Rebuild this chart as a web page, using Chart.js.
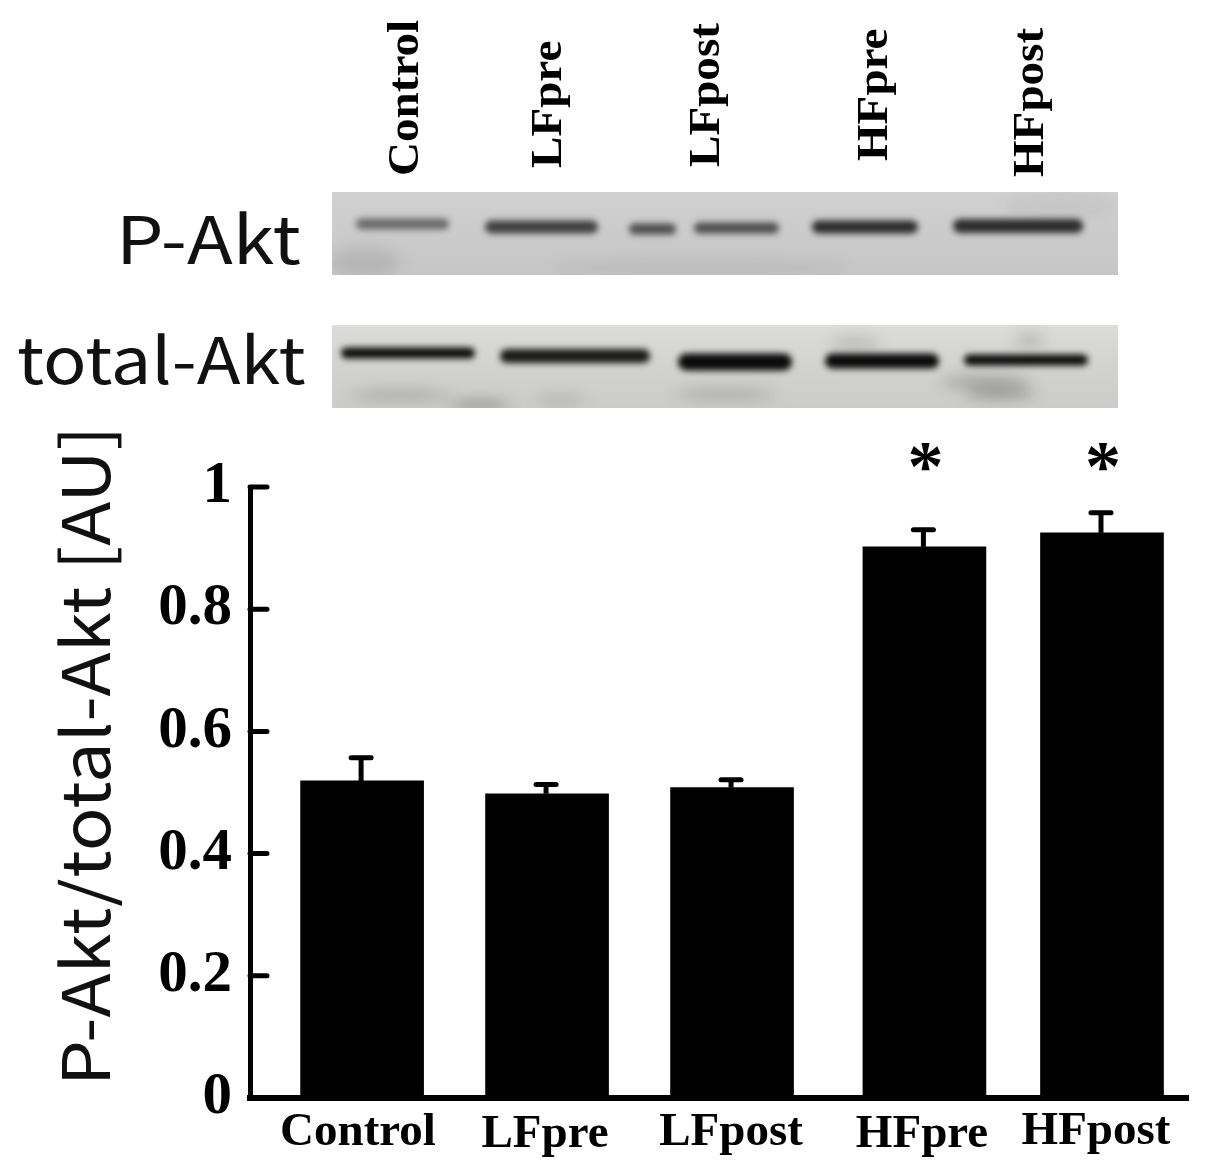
<!DOCTYPE html>
<html><head><meta charset="utf-8">
<style>html,body{margin:0;padding:0;background:#fff}#w{position:relative;width:1205px;height:1173px}</style>
<script src="https://cdn.jsdelivr.net/npm/chart.js@4/dist/chart.umd.min.js"></script>
</head><body><div id="w"><canvas id="c" width="1205" height="1173"></canvas></div>
<script>
const categories=['Control','LFpre','LFpost','HFpre','HFpost'];
const groupSlots=[0,1,2,3.04,4];
const meanValues=[0.519,0.498,0.508,0.902,0.925];
const upperError=[0.557,0.513,0.521,0.930,0.958];
const significant=[false,false,false,true,true];
const yTicks=[0,0.2,0.4,0.6,0.8,1];
const blotPAkt=[0.5,0.72,0.65,0.82,0.82];
const blotTotalAkt=[1,0.92,1,1,1];

function blur(ctx,r,fn){ctx.save();ctx.filter=`blur(${r}px)`;fn();ctx.restore();}
function band(ctx,x0,x1,cy,h,a){
  blur(ctx,3,()=>{ctx.fillStyle=`rgba(10,10,10,${a})`;ctx.beginPath();ctx.roundRect(x0,cy-h/2,x1-x0,h,h/2);ctx.fill();});
}
function smudge(ctx,cx,cy,w,h,a){
  blur(ctx,7,()=>{ctx.fillStyle=`rgba(60,60,60,${a})`;ctx.beginPath();ctx.ellipse(cx,cy,w/2,h/2,0,0,Math.PI*2);ctx.fill();});
}
function stretched(ctx,t,x,y,sx,rot){
  ctx.save();ctx.translate(x,y);if(rot)ctx.rotate(-Math.PI/2);ctx.scale(sx,1);ctx.fillText(t,0,0);ctx.restore();
}
const decor={id:'decor',
 afterDraw(ch){
  const ctx=ch.ctx,{x,y}=ch.scales;
  ctx.save();ctx.strokeStyle='#000';ctx.lineWidth=5;ctx.lineCap='round';
  yTicks.slice(1).forEach(v=>{const p=y.getPixelForValue(v);ctx.beginPath();ctx.moveTo(250,p);ctx.lineTo(267,p);ctx.stroke();});
  ctx.lineCap='butt';
  meanValues.forEach((v,i)=>{
    const px=x.getPixelForValue(groupSlots[i])-1,t=y.getPixelForValue(upperError[i]),b=y.getPixelForValue(v);
    ctx.lineWidth=5;ctx.beginPath();ctx.moveTo(px,b);ctx.lineTo(px,t);ctx.stroke();
    ctx.lineCap='round';ctx.beginPath();ctx.moveTo(px-10,t);ctx.lineTo(px+10,t);ctx.stroke();ctx.lineCap='butt';
    if(significant[i]){ctx.fillStyle='#000';ctx.font='bold 72px "Liberation Serif"';ctx.textAlign='center';ctx.textBaseline='alphabetic';ctx.fillText('*',px+2,y.getPixelForValue(1)+3);}
  });
  ctx.restore();
  ctx.save();
  let g=ctx.createLinearGradient(0,192,0,275);g.addColorStop(0,'#d0d0d0');g.addColorStop(1,'#c6c6c6');
  ctx.fillStyle=g;ctx.fillRect(332,192,786,83);
  ctx.save();ctx.beginPath();ctx.rect(332,192,786,83);ctx.clip();
  smudge(ctx,365,262,70,30,.12);smudge(ctx,700,268,300,16,.08);smudge(ctx,1060,205,110,30,.05);
  [[356,449,224,11],[485,598,227,13],[629,676,229,11],[694,779,228,11],[812,918,227,13],[953,1083,226,14]].forEach((b,i)=>{
    const a=blotPAkt[i<3?i:i-1];band(ctx,b[0],b[1],b[2],b[3],a);});
  ctx.restore();
  g=ctx.createLinearGradient(0,325,0,408);g.addColorStop(0,'#dcdcda');g.addColorStop(.5,'#d2d2d0');g.addColorStop(1,'#cbcbc9');
  ctx.fillStyle=g;ctx.fillRect(332,325,786,83);
  ctx.save();ctx.beginPath();ctx.rect(332,325,786,83);ctx.clip();
  smudge(ctx,400,395,100,10,.25);smudge(ctx,480,405,60,6,.6);smudge(ctx,725,394,100,8,.3);smudge(ctx,985,382,90,12,.3);smudge(ctx,1000,393,70,10,.4);smudge(ctx,1030,340,30,14,.2);smudge(ctx,855,343,50,12,.2);smudge(ctx,560,400,50,8,.2);
  [[341,475,353,11],[500,650,356,14],[678,792,362,17],[825,939,361,15],[964,1088,360,11]].forEach((b,i)=>band(ctx,b[0],b[1],b[2],b[3],blotTotalAkt[i]));
  ctx.restore();
  ctx.restore();
  ctx.save();ctx.fillStyle='#111';ctx.textBaseline='alphabetic';ctx.textAlign='left';
  ctx.font='66px "Noto Sans CJK SC"';
  stretched(ctx,'P-Akt',116,264,1.14,false);
  ctx.font='64px "Noto Sans CJK SC"';
  stretched(ctx,'total-Akt',17,384,1.125,false);
  ctx.font='66px "Noto Sans CJK SC"';
  stretched(ctx,'P-Akt/total-Akt [AU]',110,1086,1.1,true);
  ctx.fillStyle='#000';ctx.font='bold 44px "Liberation Serif"';
  const lx=[418,561,719,887,1043],ly=[176,168,167,161,177];
  categories.forEach((c,i)=>stretched(ctx,c,lx[i],ly[i],1.07,true));
  ctx.font='bold 47px "Liberation Serif"';ctx.textAlign='center';
  const bx=[358,545,731,922,1096],by=[1145,1147,1145,1147,1144];
  categories.forEach((c,i)=>ctx.fillText(c,bx[i],by[i]));
  ctx.restore();
 }};
new Chart(document.getElementById('c'),{
 type:'bar',
 data:{datasets:[{data:meanValues.map((v,i)=>({x:groupSlots[i],y:v})),backgroundColor:'#000',borderWidth:0,barThickness:123}]},
 plugins:[decor],
 options:{responsive:false,animation:false,
  layout:{padding:{left:0,right:17,top:487,bottom:0}},
  plugins:{legend:{display:false},tooltip:{enabled:false}},
  scales:{
   x:{type:'linear',offset:false,min:-0.606,max:4.465,afterFit(s){s.height=75;},grid:{display:false,drawTicks:false},border:{color:'#000',width:6},ticks:{display:false}},
   y:{min:0,max:1,afterFit(s){s.width=250;},afterBuildTicks(s){s.ticks=yTicks.map(v=>({value:v}));},
      grid:{display:false,drawTicks:false},
      border:{color:'#000',width:5},
      ticks:{color:'#000',padding:18,font:{family:'"Liberation Serif"',weight:'bold',size:59},callback:v=>String(v)}}
  }}
});
</script></body></html>
